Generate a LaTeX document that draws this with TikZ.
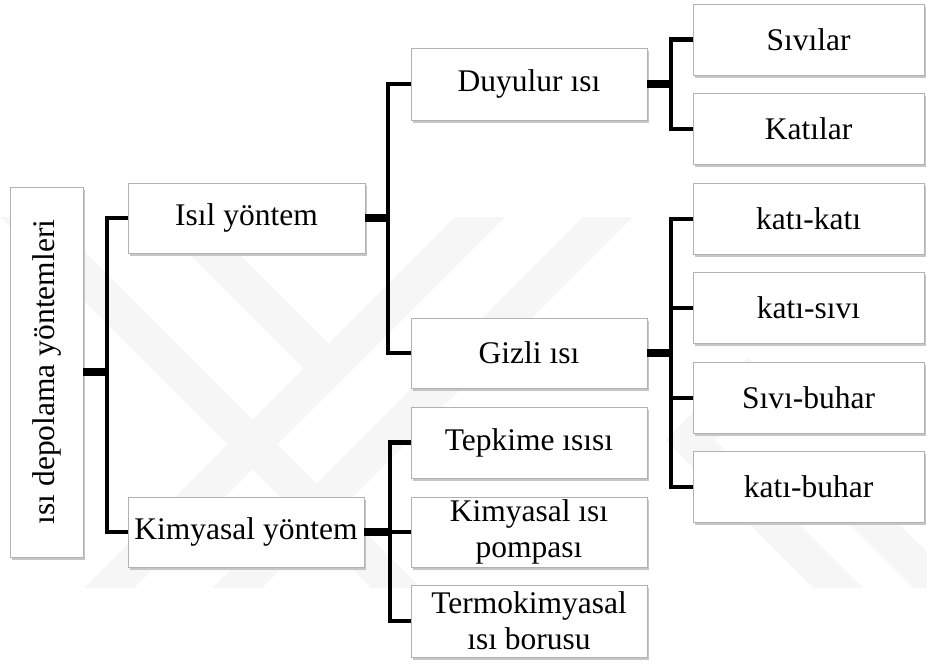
\documentclass[tikz,border=0pt]{standalone}
\usepackage{fontspec}
\setmainfont{Liberation Serif}
\usetikzlibrary{shadows}
\begin{document}
\begin{tikzpicture}[x=1pt,y=-1pt]
\tikzset{
  box/.style={draw=gray!60, line width=0.9pt, fill=white, inner sep=0pt, align=center,
    font=\fontsize{31.5}{36}\selectfont,
    drop shadow={shadow xshift=2pt, shadow yshift=-2.5pt, fill=gray!45, opacity=1}},
  lbl/.style={inner sep=0pt, font=\fontsize{31.5}{36}\selectfont},
  br/.style={line width=4.5pt, black},
  stub/.style={line width=8pt, black},
  wm/.style={line width=35pt, gray!7}
}
\useasboundingbox[fill=white] (0,0) rectangle (927,664);
% faint background watermark
\begin{scope}
  \clip (0,217) rectangle (927,587);
  \draw[wm] (520,177) -- (70,627);
  \draw[wm] (648,177) -- (198,627);
  \draw[wm] (-15,177) -- (435,627);
  \draw[wm, line join=miter] (137,177) -- (328.5,368.5) -- (520,177);
  \draw[wm, line join=miter] (760,370) -- (690,440) -- (877,627);
  \draw[wm] (820,470) -- (987,637);
\end{scope}
% boxes
\node[box, minimum width=73pt, minimum height=370pt] (root) at (46.5,372) {};
\node[lbl, rotate=90] (roottxt) at (root.center) {ısı depolama yöntemleri};
\node[box, minimum width=237pt, minimum height=70pt] (isil) at (246.5,218) {Isıl yöntem};
\node[box, minimum width=236pt, minimum height=70pt] (kimy) at (246,532) {Kimyasal yöntem};
\node[box, minimum width=236pt, minimum height=72pt] (duy) at (529,84) {Duyulur ısı};
\node[box, minimum width=236pt, minimum height=70pt] (gizli) at (529,353) {Gizli ısı};
\node[box, minimum width=236pt, minimum height=71pt] (tepk) at (529,442.5) {Tepkime ısısı};
\node[box, minimum width=236pt, minimum height=70pt] (kpomp) at (529,532) {Kimyasal ısı\\pompası};
\node[box, minimum width=236pt, minimum height=72pt] (termo) at (529,621) {Termokimyasal\\ısı borusu};
\node[box, minimum width=231pt, minimum height=71pt] (siv) at (808.5,39.5) {Sıvılar};
\node[box, minimum width=231pt, minimum height=71pt] (kat) at (808.5,129) {Katılar};
\node[box, minimum width=231pt, minimum height=71pt] (kk) at (808.5,219) {katı-katı};
\node[box, minimum width=231pt, minimum height=71pt] (ks) at (808.5,308) {katı-sıvı};
\node[box, minimum width=231pt, minimum height=71pt] (sb) at (808.5,398) {Sıvı-buhar};
\node[box, minimum width=231pt, minimum height=71pt] (kb) at (808.5,487) {katı-buhar};
% junctions
\coordinate (j0) at (107,372);
\coordinate (j1) at (388,218);
\coordinate (j2) at (390,532);
\coordinate (j3) at (671,84);
\coordinate (j4) at (671,353);
% connectors
\draw[stub] (root.east) -- (j0);
\draw[br] (j0) |- (isil.west);
\draw[br] (j0) |- (kimy.west);
\draw[stub] (isil.east) -- (j1);
\draw[br] (j1) |- (duy.west);
\draw[br] (j1) |- (gizli.west);
\draw[stub] (kimy.east) -- (j2);
\draw[br] (j2) |- (tepk.west);
\draw[br] (j2) |- (kpomp.west);
\draw[br] (j2) |- (termo.west);
\draw[stub] (duy.east) -- (j3);
\draw[br] (j3) |- (siv.west);
\draw[br] (j3) |- (kat.west);
\draw[stub] (gizli.east) -- (j4);
\draw[br] (j4) |- (kk.west);
\draw[br] (j4) |- (ks.west);
\draw[br] (j4) |- (sb.west);
\draw[br] (j4) |- (kb.west);
\end{tikzpicture}
\end{document}
